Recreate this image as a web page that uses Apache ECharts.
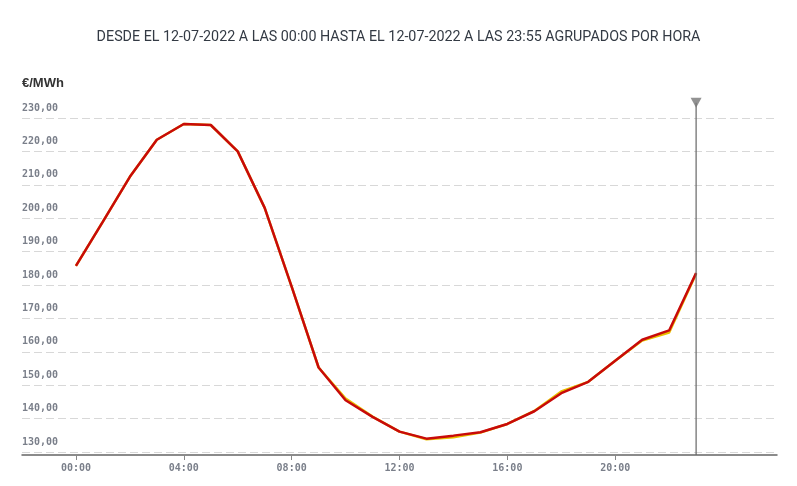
<!DOCTYPE html>
<html>
<head>
<meta charset="utf-8">
<script src="https://cdn.jsdelivr.net/npm/echarts@6/dist/echarts.min.js"></script>
<style>html,body{margin:0;padding:0;background:#fff}#c{width:797px;height:486px}</style>
</head>
<body>
<div id="c"></div>
<script>
const titleText = 'DESDE EL 12-07-2022 A LAS 00:00 HASTA EL 12-07-2022 A LAS 23:55 AGRUPADOS POR HORA';
const unitText = '€/MWh';
const hours = [0,1,2,3,4,5,6,7,8,9,10,11,12,13,14,15,16,17,18,19,20,21,22,23];
const priceRed = [185.7,199.0,212.4,223.5,228.2,227.9,220.0,203.1,179.5,155.3,145.5,140.5,136.1,134.0,134.9,135.9,138.4,142.2,147.6,151.0,157.3,163.6,166.4,183.6];
const priceYellow = [185.7,199.0,212.4,223.5,228.2,227.9,220.0,203.1,179.5,155.3,146.0,140.6,136.1,133.8,134.4,135.8,138.4,142.3,148.1,151.0,157.3,163.4,165.8,183.4];
const xTicks = [0,4,8,12,16,20];
const yTicks = [130,140,150,160,170,180,190,200,210,220,230];
const markerHour = 23;
const markerSpan = [129.1, 234.6];

const pair = (xs, ys) => xs.map((x, i) => [x, ys[i]]);
const chart = echarts.init(document.getElementById('c'));
const labelFont = { fontFamily: 'DejaVu Sans Mono', fontSize: 10, fontWeight: 'bold', color: '#7a7f8a' };
chart.setOption({
  animation: false,
  title: [
    { text: titleText, left: 'center', top: 25, textStyle: { fontFamily: 'Roboto', fontSize: 14.3, fontWeight: 'normal', color: '#333a44' } },
    { text: unitText, left: 17, top: 72, textStyle: { fontFamily: 'Liberation Sans', fontSize: 13, fontWeight: 'bold', color: '#333' } }
  ],
  grid: { left: 22, right: 20, top: 118, bottom: 34 },
  xAxis: {
    type: 'value', min: -2, max: 26, offset: 3,
    splitLine: { show: false },
    axisLine: { lineStyle: { color: '#666', width: 1.5 } },
    axisTick: { customValues: xTicks, length: 5, lineStyle: { color: '#888' } },
    axisLabel: Object.assign({
      customValues: xTicks, margin: 8,
      formatter: v => (v < 10 ? '0' : '') + v + ':00'
    }, labelFont)
  },
  yAxis: {
    type: 'value', min: yTicks[0], max: yTicks[yTicks.length - 1], interval: 10,
    axisLine: { show: false }, axisTick: { show: false },
    splitLine: { lineStyle: { color: '#d8d8d8', type: [8, 4], width: 1 } },
    axisLabel: Object.assign({
      inside: true, margin: 0, align: 'left', verticalAlign: 'bottom', lineHeight: 20,
      formatter: v => v.toFixed(2).replace('.', ',')
    }, labelFont)
  },
  series: [
    { type: 'line', data: pair(hours, priceYellow), symbol: 'none', lineStyle: { color: '#e8c000', width: 2.5 }, z: 2 },
    { type: 'line', data: pair(hours, priceRed), symbol: 'none', lineStyle: { color: '#c80a0a', width: 2.5 }, z: 3 },
    { type: 'line', data: markerSpan.map(v => [markerHour, v]), symbol: 'none', clip: false, lineStyle: { color: '#666', width: 1.2 }, z: 4 },
    { type: 'scatter', data: [[markerHour, markerSpan[1]]], symbol: 'triangle', symbolRotate: 180, symbolSize: [11, 10], clip: false, itemStyle: { color: '#777' }, z: 5 }
  ]
});
</script>
</body>
</html>
